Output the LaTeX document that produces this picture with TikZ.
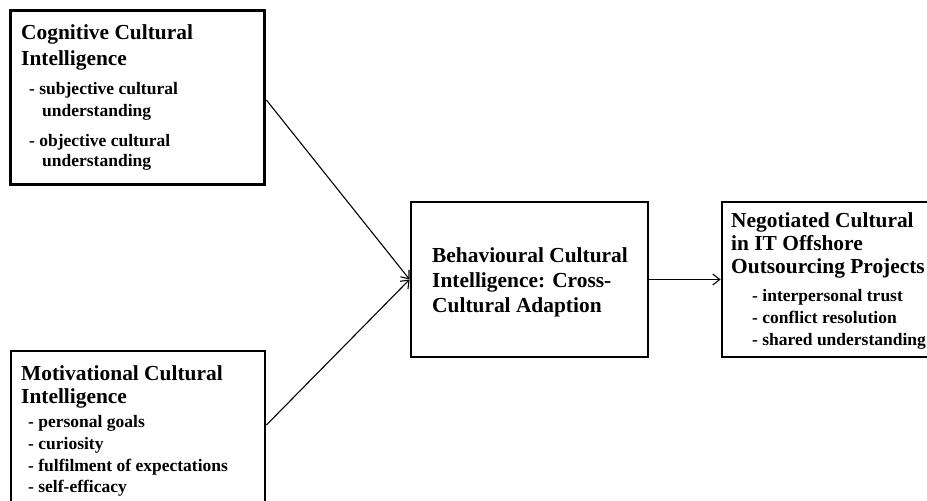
\documentclass[tikz,border=0pt]{standalone}
\usepackage{fontspec}
\setmainfont{Liberation Serif}
\usetikzlibrary{arrows.meta}
\tikzset{
  boxst/.style={draw, line width=2.8pt, inner sep=0pt},
  ttl/.style={anchor=base west, inner sep=0pt, font=\fontsize{21.4}{25}\selectfont\bfseries},
  itm/.style={anchor=base west, inner sep=0pt, font=\fontsize{17.5}{21}\selectfont\bfseries},
  arr/.style={-{Straight Barb[length=7pt,width=11pt]}, line width=1.1pt}
}
\begin{document}
\begin{tikzpicture}[x=1pt,y=-1pt]
\useasboundingbox (0,0) rectangle (927,501);
% boxes
\node[boxst, minimum width=254pt, minimum height=174pt] (cog) at (137.5,97.5) {};
\node[boxst, minimum width=254pt, minimum height=180pt] (mot) at (138,441) {};
\node[boxst, minimum width=237pt, minimum height=155pt] (beh) at (529.5,279.5) {};
\node[boxst, minimum width=220pt, minimum height=155pt] (neg) at (832,279.5) {};
% box 1 text
\node[ttl] (c1) at (21,39.5) {Cognitive Cultural};
\node[ttl] (c2) at (21,65) {Intelligence};
\node[itm] (c3) at (29,94) {- subjective cultural};
\node[itm] (c4) at (42,116) {understanding};
\node[itm] (c5) at (29,146) {- objective cultural};
\node[itm] (c6) at (42,166) {understanding};
% box 2 text
\node[ttl] (m1) at (21,380) {Motivational Cultural};
\node[ttl] (m2) at (21,403) {Intelligence};
\node[itm] (m3) at (28,427) {- personal goals};
\node[itm] (m4) at (28,449) {- curiosity};
\node[itm] (m5) at (28,471) {- fulfilment of expectations};
\node[itm] (m6) at (28,492) {- self-efficacy};
% box 3 text
\node[ttl] (b1) at (432,262) {Behavioural Cultural};
\node[ttl] (b2) at (432,287) {Intelligence: Cross-};
\node[ttl] (b3) at (432,312) {Cultural Adaption};
% box 4 text
\node[ttl] (n1) at (731,227) {Negotiated Cultural};
\node[ttl] (n2) at (731,250) {in IT Offshore};
\node[ttl] (n3) at (731,273) {Outsourcing Projects};
\node[itm] (n4) at (752,301) {- interpersonal trust};
\node[itm] (n5) at (752,323) {- conflict resolution};
\node[itm] (n6) at (752,345) {- shared understanding};
% connectors
\coordinate (s1) at (266.4,100);
\coordinate (s2) at (266.4,425);
\draw[arr] (s1) -- (beh.west);
\draw[arr] (s2) -- (beh.west);
\draw[arr] (beh.east) -- (neg.west);
\end{tikzpicture}
\end{document}
